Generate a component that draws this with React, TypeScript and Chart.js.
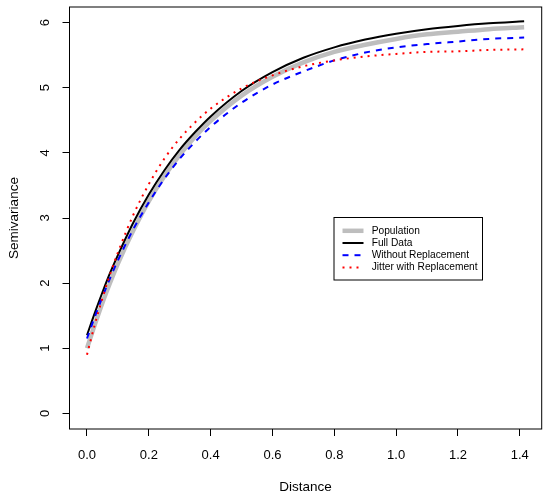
import { useEffect, useRef } from "react";
import { Chart, registerables } from "chart.js";

Chart.register(...registerables);

const distance = [0, 0.025, 0.05, 0.075, 0.1, 0.15, 0.2, 0.25, 0.3, 0.35, 0.4, 0.5, 0.6, 0.7, 0.8, 0.9, 1.0, 1.1, 1.2, 1.3, 1.414];
const population = [1.0, 1.36, 1.7, 2.01, 2.3, 2.81, 3.26, 3.64, 3.97, 4.25, 4.49, 4.88, 5.17, 5.39, 5.55, 5.66, 5.75, 5.82, 5.86, 5.9, 5.93];
const fullData = [1.2, 1.54, 1.86, 2.16, 2.43, 2.93, 3.36, 3.73, 4.05, 4.32, 4.56, 4.95, 5.24, 5.46, 5.62, 5.74, 5.83, 5.9, 5.95, 5.99, 6.02];
const withoutReplacement = [1.15, 1.48, 1.79, 2.08, 2.35, 2.83, 3.24, 3.6, 3.91, 4.17, 4.4, 4.77, 5.05, 5.25, 5.42, 5.54, 5.62, 5.67, 5.71, 5.75, 5.77];
const jitterWithReplacement = [0.9, 1.36, 1.77, 2.14, 2.47, 3.05, 3.52, 3.91, 4.22, 4.47, 4.68, 4.99, 5.19, 5.33, 5.42, 5.48, 5.52, 5.55, 5.56, 5.58, 5.59];

const seriesNames = ["Population", "Full Data", "Without Replacement", "Jitter with Replacement"];
const xTicks = [0, 0.2, 0.4, 0.6, 0.8, 1.0, 1.2, 1.4];
const yTicks = [0, 1, 2, 3, 4, 5, 6];
const xLabels = ["0.0", "0.2", "0.4", "0.6", "0.8", "1.0", "1.2", "1.4"];
const yLabels = ["0", "1", "2", "3", "4", "5", "6"];
const xTitle = "Distance";
const yTitle = "Semivariance";

const FONT = "'Liberation Sans', Arial, Helvetica, sans-serif";

const toPoints = (ys: number[]) => ys.map((y, i) => ({ x: distance[i], y }));

export default function App() {
  const ref = useRef<HTMLCanvasElement | null>(null);

  useEffect(() => {
    if (!ref.current) return;

    const decor = {
      id: "rdecor",
      afterDraw(chart: any) {
        const { ctx, chartArea } = chart;
        const xs = chart.scales.x;
        const ys = chart.scales.y;
        ctx.save();
        // box
        ctx.strokeStyle = "#000";
        ctx.lineWidth = 1;
        ctx.setLineDash([]);
        ctx.strokeRect(chartArea.left, chartArea.top, chartArea.right - chartArea.left, chartArea.bottom - chartArea.top);
        // tick labels
        ctx.fillStyle = "#000";
        ctx.font = `13px ${FONT}`;
        ctx.textAlign = "center";
        ctx.textBaseline = "middle";
        xTicks.forEach((v, i) => {
          ctx.fillText(xLabels[i], xs.getPixelForValue(v), 455);
        });
        yTicks.forEach((v, i) => {
          ctx.save();
          ctx.translate(45.5, ys.getPixelForValue(v));
          ctx.rotate(-Math.PI / 2);
          ctx.fillText(yLabels[i], 0, 0);
          ctx.restore();
        });
        // titles
        ctx.font = `13.5px ${FONT}`;
        ctx.fillText(xTitle, (chartArea.left + chartArea.right) / 2, 487.5);
        ctx.save();
        ctx.translate(14, (chartArea.top + chartArea.bottom) / 2);
        ctx.rotate(-Math.PI / 2);
        ctx.fillText(yTitle, 0, 0);
        ctx.restore();
        // legend
        const bx = 334, by = 217.5, bw = 148.5, bh = 62.5;
        ctx.fillStyle = "#fff";
        ctx.fillRect(bx, by, bw, bh);
        ctx.strokeStyle = "#000";
        ctx.lineWidth = 1;
        ctx.strokeRect(bx, by, bw, bh);
        ctx.font = `10.2px ${FONT}`;
        ctx.textAlign = "left";
        ctx.textBaseline = "middle";
        chart.data.datasets.forEach((ds: any, i: number) => {
          const yy = 230.8 + i * 12.2;
          ctx.save();
          ctx.strokeStyle = ds.borderColor;
          ctx.lineWidth = ds.borderWidth;
          ctx.setLineDash(ds.borderDash || []);
          ctx.lineCap = "butt";
          ctx.beginPath();
          ctx.moveTo(342.5, yy);
          ctx.lineTo(363.5, yy);
          ctx.stroke();
          ctx.restore();
          ctx.fillStyle = "#000";
          ctx.fillText(seriesNames[i], 371.7, yy);
        });
        ctx.restore();
      },
    };

    const chart = new Chart(ref.current, {
      type: "line",
      data: {
        datasets: [
          {
            label: seriesNames[0],
            data: toPoints(population),
            borderColor: "#BEBEBE",
            borderWidth: 4.5,
            order: 4,
          },
          {
            label: seriesNames[1],
            data: toPoints(fullData),
            borderColor: "#000000",
            borderWidth: 2,
            order: 3,
          },
          {
            label: seriesNames[2],
            data: toPoints(withoutReplacement),
            borderColor: "#0000FF",
            borderWidth: 2,
            borderDash: [6, 6],
            order: 2,
          },
          {
            label: seriesNames[3],
            data: toPoints(jitterWithReplacement),
            borderColor: "#FF0000",
            borderWidth: 2,
            borderDash: [2, 5],
            order: 1,
          },
        ] as any,
      },
      options: {
        animation: false,
        responsive: false,
        devicePixelRatio: 1,
        layout: { padding: { left: 0, right: 8.3, top: 7, bottom: 0 } },
        elements: {
          point: { radius: 0, hoverRadius: 0 },
          line: { cubicInterpolationMode: "monotone", borderCapStyle: "butt", fill: false },
        },
        plugins: {
          legend: { display: false },
          tooltip: { enabled: false },
          title: { display: false },
        },
        events: [],
        scales: {
          x: {
            type: "linear",
            min: -0.0566,
            max: 1.4708,
            afterBuildTicks: (s: any) => {
              s.ticks = xTicks.map((v) => ({ value: v }));
            },
            afterFit: (s: any) => {
              s.height = 70;
            },
            ticks: { display: false },
            grid: { display: true, drawOnChartArea: false, drawTicks: true, tickLength: 7, color: "#000", lineWidth: 1 },
            border: { display: false },
          },
          y: {
            type: "linear",
            min: -0.24,
            max: 6.24,
            afterBuildTicks: (s: any) => {
              s.ticks = yTicks.map((v) => ({ value: v }));
            },
            afterFit: (s: any) => {
              s.width = 69.5;
            },
            ticks: { display: false },
            grid: { display: true, drawOnChartArea: false, drawTicks: true, tickLength: 7, color: "#000", lineWidth: 1 },
            border: { display: false },
          },
        },
      },
      plugins: [decor],
    });

    return () => chart.destroy();
  }, []);

  return (
    <div style={{ position: "absolute", left: 0, top: 0, width: 550, height: 499, background: "#fff" }}>
      <canvas ref={ref} width={550} height={499} style={{ display: "block" }} />
    </div>
  );
}
